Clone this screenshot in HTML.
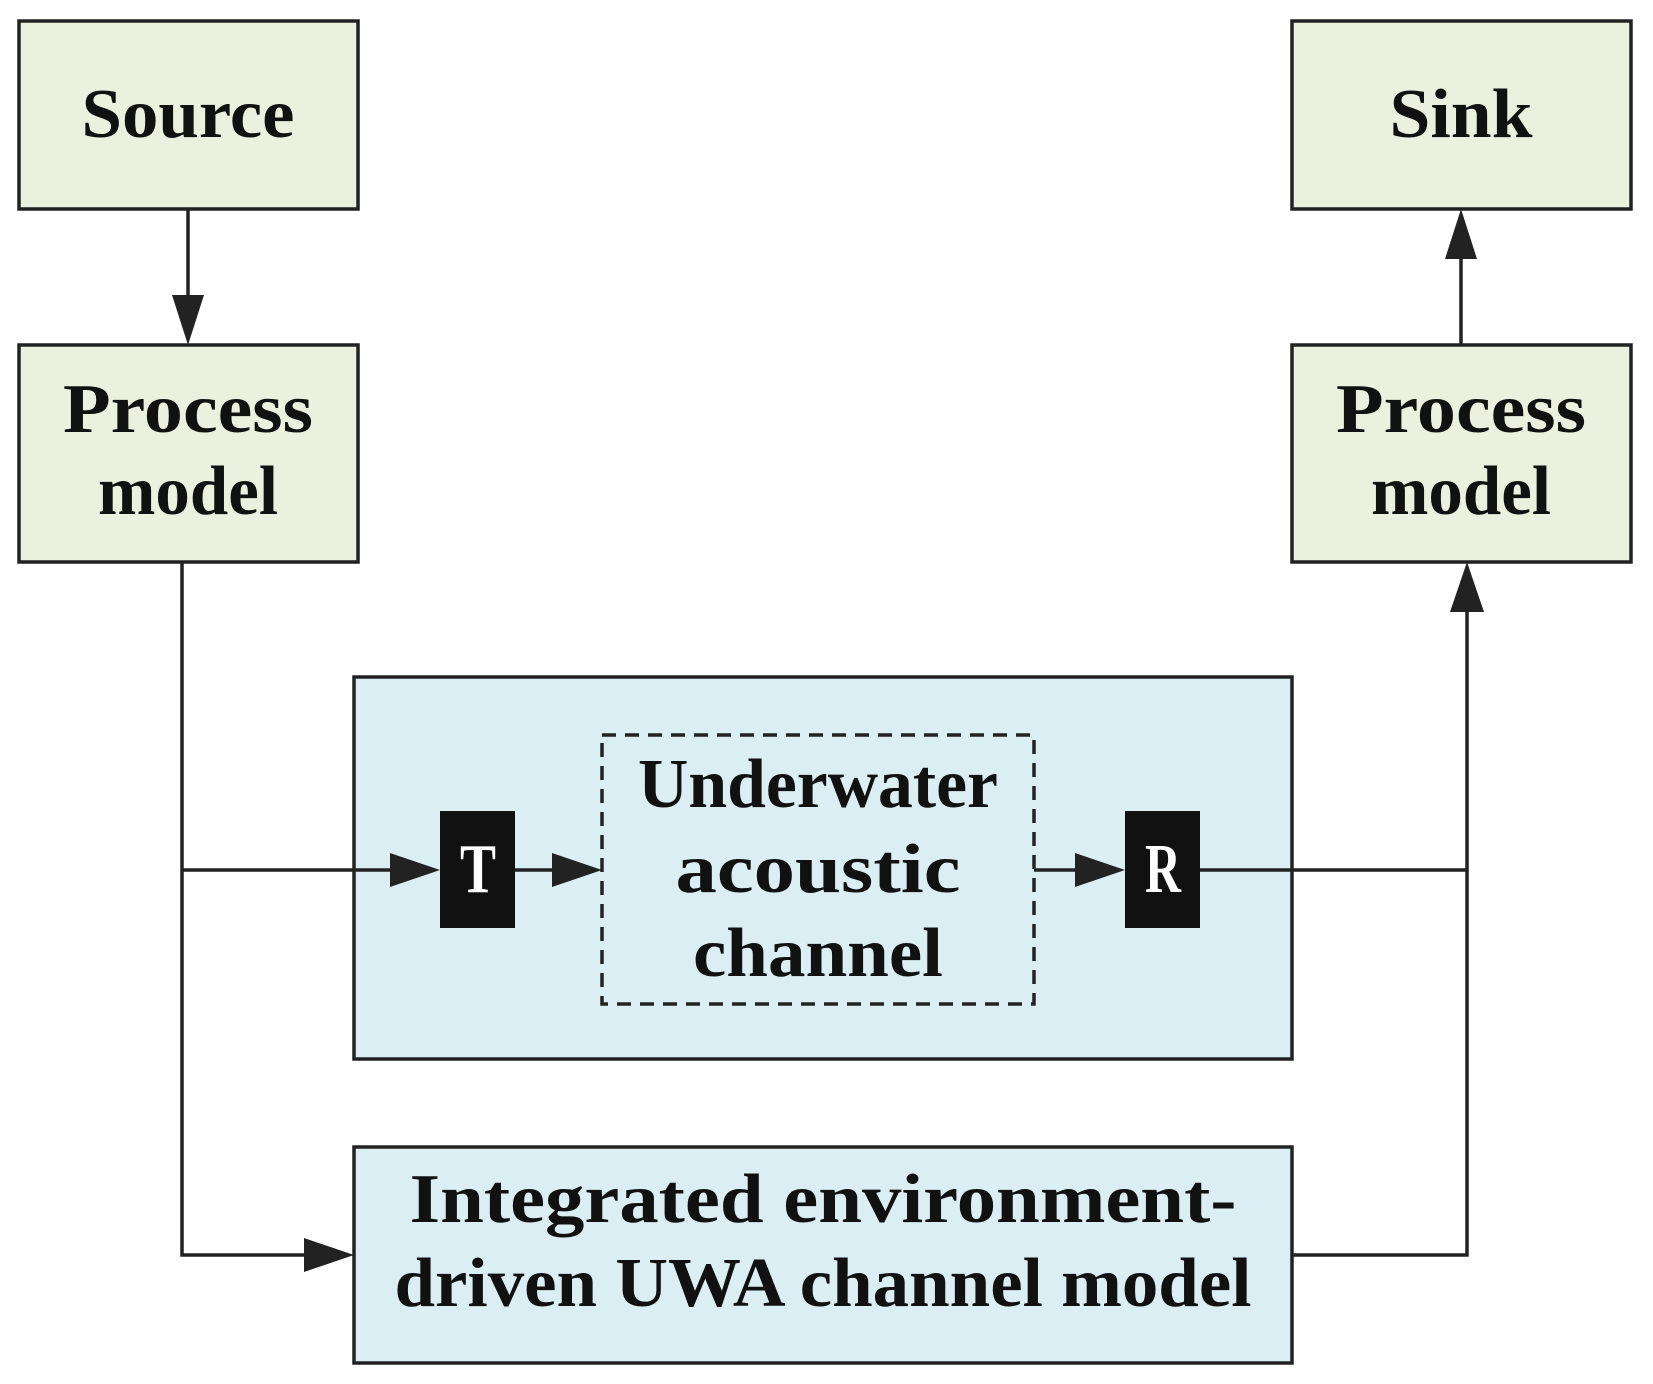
<!DOCTYPE html><html><head><style>body{margin:0;background:#fff}svg{display:block}text{font-family:"Liberation Serif",serif;font-size:70px;fill:#111;text-anchor:middle;font-weight:bold}</style></head><body>
<svg width="1653" height="1384" viewBox="0 0 1653 1384" xmlns="http://www.w3.org/2000/svg">
<g stroke="#222" stroke-width="3.5">
<rect x="19" y="21" width="339" height="188" fill="#ebf1de"/>
<rect x="19" y="345" width="339" height="217" fill="#ebf1de"/>
<rect x="1292" y="21" width="339" height="188" fill="#ebf1de"/>
<rect x="1292" y="345" width="339" height="217" fill="#ebf1de"/>
<rect x="354" y="677" width="938" height="382" fill="#dbeef4"/>
<rect x="354" y="1147" width="938" height="216" fill="#dbeef4"/>
<rect x="602" y="735" width="432" height="269" fill="none" stroke-dasharray="14,9"/>
</g>
<rect x="440" y="811" width="75" height="117" fill="#111"/>
<rect x="1125" y="811" width="75" height="117" fill="#111"/>
<g stroke="#222" stroke-width="3.5" fill="none">
<path d="M188 209 V296"/><path d="M188 345 l-16 -50 h32z" fill="#222" stroke="none"/>
<path d="M1461 345 V258"/><path d="M1461 209 l-16 50 h32z" fill="#222" stroke="none"/>
<path d="M182 562 V1255 H304"/><path d="M354 1255 l-50 -17 v34z" fill="#222" stroke="none"/>
<path d="M182 870 H392"/><path d="M440 870 l-50 -17 v34z" fill="#222" stroke="none"/>
<path d="M515 870 H554"/><path d="M602 870 l-50 -17 v34z" fill="#222" stroke="none"/>
<path d="M1034 870 H1077"/><path d="M1125 870 l-50 -17 v34z" fill="#222" stroke="none"/>
<path d="M1200 870 H1467 V612"/><path d="M1467 562 l-17 50 h34z" fill="#222" stroke="none"/>
<path d="M1292 1255 H1467 V870"/>
</g>
<text x="188" y="137" textLength="213" lengthAdjust="spacingAndGlyphs">Source</text>
<text x="1461" y="137" textLength="143" lengthAdjust="spacingAndGlyphs">Sink</text>
<text x="188" y="432" textLength="250" lengthAdjust="spacingAndGlyphs">Process</text>
<text x="188" y="514" textLength="180" lengthAdjust="spacingAndGlyphs">model</text>
<text x="1461" y="432" textLength="250" lengthAdjust="spacingAndGlyphs">Process</text>
<text x="1461" y="514" textLength="180" lengthAdjust="spacingAndGlyphs">model</text>
<text x="818" y="807" textLength="360" lengthAdjust="spacingAndGlyphs">Underwater</text>
<text x="818" y="892" textLength="285" lengthAdjust="spacingAndGlyphs">acoustic</text>
<text x="818" y="976" textLength="250" lengthAdjust="spacingAndGlyphs">channel</text>
<text x="478" y="892" style="fill:#fff" textLength="36" lengthAdjust="spacingAndGlyphs">T</text>
<text x="1163" y="892" style="fill:#fff" textLength="36" lengthAdjust="spacingAndGlyphs">R</text>
<text x="823" y="1222" textLength="827" lengthAdjust="spacingAndGlyphs">Integrated environment-</text>
<text x="823" y="1306" textLength="857" lengthAdjust="spacingAndGlyphs">driven UWA channel model</text>
</svg></body></html>
